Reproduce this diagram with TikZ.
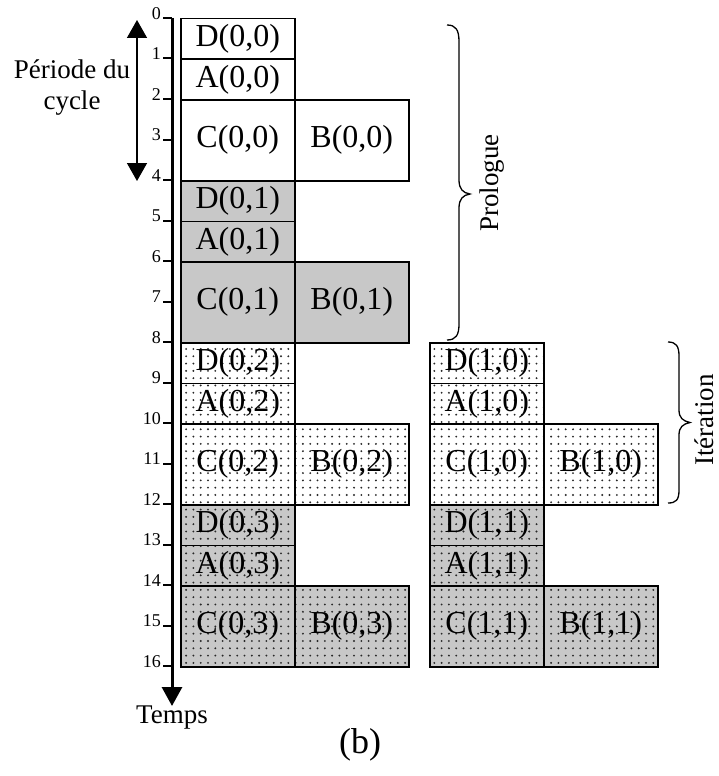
\documentclass[tikz,border=0pt]{standalone}
\usepackage{fontspec}
\setmainfont{Liberation Serif}
\usetikzlibrary{patterns,arrows.meta}
\definecolor{boxgray}{RGB}{200,200,200}
\definecolor{dotcol}{RGB}{40,40,40}
\pgfdeclarepatternformonly{mydots}{\pgfqpoint{-1pt}{-1pt}}{\pgfqpoint{8.3pt}{8.3pt}}{\pgfqpoint{7.3pt}{7.3pt}}{\pgfpathcircle{\pgfqpoint{3.6pt}{3.6pt}}{1.05pt}\pgfusepath{fill}}
\begin{document}
\begin{tikzpicture}[x=1pt,y=-1pt,
  cell/.style={draw, line width=1.5pt, inner sep=0pt, minimum width=114pt, anchor=north west, font=\fontsize{32}{32}\selectfont},
  shortcell/.style={cell, minimum height=40.5pt},
  tallcell/.style={cell, minimum height=81pt},
  cwhite/.style={fill=white},
  cgray/.style={fill=boxgray},
  cdotw/.style={preaction={fill=white}, pattern=mydots, pattern color=dotcol},
  cdotg/.style={preaction={fill=boxgray}, pattern=mydots, pattern color=dotcol},
  ticklab/.style={anchor=south east, inner sep=0pt, font=\fontsize{18}{18}\selectfont},
  lab/.style={font=\fontsize{27}{31}\selectfont, align=center},
  bracepath/.style={line width=1.3pt}
]
\useasboundingbox (0,0) rectangle (718,776);
\fill[white] (0,0) rectangle (718,776);

% time axis
\coordinate (ax0) at (172,18);
\coordinate (ax1) at (172,706);
\draw[line width=3pt, -{Triangle[length=19pt,width=20pt]}] (ax0) -- (ax1);
\foreach \t in {0,...,16}{
  \draw[line width=2pt] (163,18+40.5*\t) -- (172,18+40.5*\t);
  \node[ticklab] (tk\t) at (161,19.5+40.5*\t) {\t};
}
\node[lab] (temps) at (172,718) {Temps};

% cycle period arrow
\coordinate (cy0) at (137,20);
\coordinate (cy1) at (137,181);
\draw[line width=1.5pt, {Triangle[length=18pt,width=20pt]}-{Triangle[length=18pt,width=20pt]}] (cy0) -- (cy1);
\node[lab] (periode) at (72,88) {Période du\\cycle};

% iteration 0,0
\node[shortcell,cwhite] (D00) at (180,18) {D(0,0)};
\node[shortcell,cwhite] (A00) at (180,58.5) {A(0,0)};
\node[tallcell,cwhite] (C00) at (180,99) {C(0,0)};
\node[tallcell,cwhite] (B00) at (294,99) {B(0,0)};
% iteration 0,1
\node[shortcell,cgray] (D01) at (180,180) {D(0,1)};
\node[shortcell,cgray] (A01) at (180,220.5) {A(0,1)};
\node[tallcell,cgray] (C01) at (180,261) {C(0,1)};
\node[tallcell,cgray] (B01) at (294,261) {B(0,1)};
% iteration 0,2
\node[shortcell,cdotw] (D02) at (180,342) {D(0,2)};
\node[shortcell,cdotw] (A02) at (180,382.5) {A(0,2)};
\node[tallcell,cdotw] (C02) at (180,423) {C(0,2)};
\node[tallcell,cdotw] (B02) at (294,423) {B(0,2)};
% iteration 0,3
\node[shortcell,cdotg] (D03) at (180,504) {D(0,3)};
\node[shortcell,cdotg] (A03) at (180,544.5) {A(0,3)};
\node[tallcell,cdotg] (C03) at (180,585) {C(0,3)};
\node[tallcell,cdotg] (B03) at (294,585) {B(0,3)};
% iteration 1,0
\node[shortcell,cdotw] (D10) at (429,342) {D(1,0)};
\node[shortcell,cdotw] (A10) at (429,382.5) {A(1,0)};
\node[tallcell,cdotw] (C10) at (429,423) {C(1,0)};
\node[tallcell,cdotw] (B10) at (543,423) {B(1,0)};
% iteration 1,1
\node[shortcell,cdotg] (D11) at (429,504) {D(1,1)};
\node[shortcell,cdotg] (A11) at (429,544.5) {A(1,1)};
\node[tallcell,cdotg] (C11) at (429,585) {C(1,1)};
\node[tallcell,cdotg] (B11) at (543,585) {B(1,1)};

% Prologue brace
\coordinate (pt) at (447,25);
\coordinate (pm) at (470,194);
\coordinate (pb) at (447,340);
\draw[bracepath] (pt) .. controls (456,25) and (459,30) .. (459,42) -- (459,180)
  .. controls (459,189) and (463,193) .. (pm)
  .. controls (463,195) and (459,199) .. (459,208) -- (459,324)
  .. controls (459,335) and (456,340) .. (pb);
\node[lab, rotate=90, anchor=base, inner sep=0pt] (prologue) at (498,183) {Prologue};

% Iteration brace
\coordinate (it) at (668,342);
\coordinate (im) at (690,422.5);
\coordinate (ib) at (668,503);
\draw[bracepath] (it) .. controls (676,342) and (679,346) .. (679,356) -- (679,410)
  .. controls (679,418) and (683,421) .. (im)
  .. controls (683,424) and (679,427) .. (679,435) -- (679,490)
  .. controls (679,500) and (676,503) .. (ib);
\node[lab, rotate=90, anchor=base, inner sep=0pt] (iteration) at (713,420) {Itération};

\node[font=\fontsize{36}{36}\selectfont] (b) at (360,745) {(b)};
\end{tikzpicture}
\end{document}
